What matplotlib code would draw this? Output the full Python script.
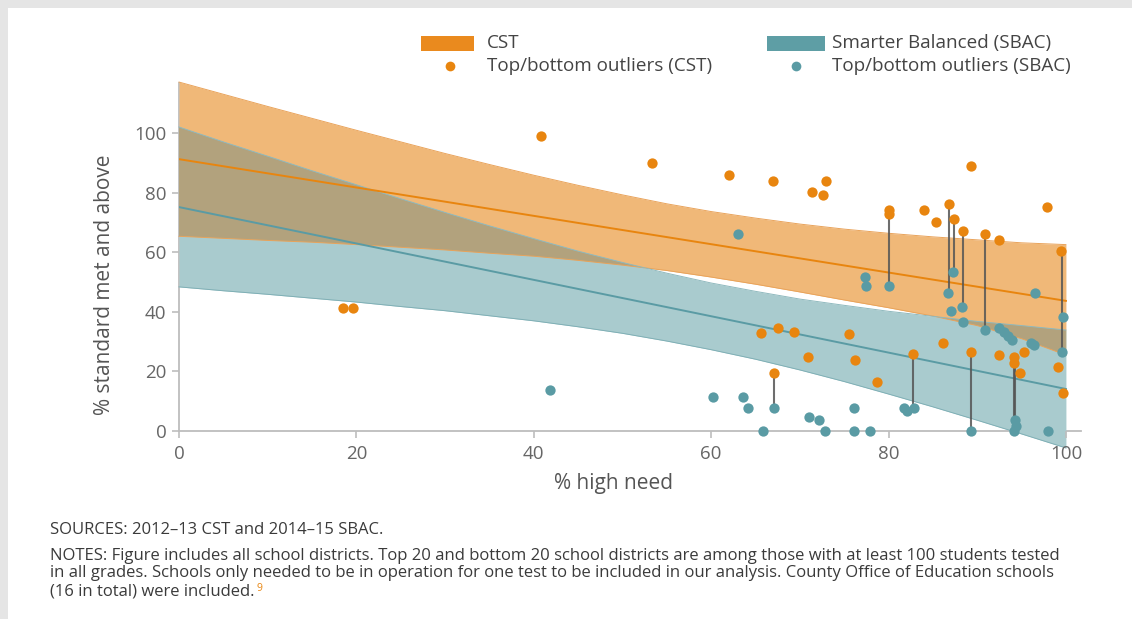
import numpy as np
import matplotlib.pyplot as plt
from matplotlib.patches import Rectangle
from matplotlib.lines import Line2D

# fitted lines (end points) and band edges
fit_x = [0, 100]
cst_fit = [91.3, 43.7]
sbac_fit = [75.2, 14.1]

band_x = [0, 5, 10, 15, 20, 25, 30, 35, 40, 45, 50,
          55, 60, 65, 70, 75, 80, 85, 90, 95, 100]
cst_hi = [117.2, 113.1, 109.0, 105.0, 101.0, 97.1, 93.2, 89.5, 85.9, 82.5, 79.3,
          76.3, 73.7, 71.5, 69.5, 67.8, 66.4, 65.2, 64.2, 63.2, 62.6]
cst_lo = [65.4, 64.7, 64.0, 63.4, 62.6, 61.7, 60.8, 59.7, 58.7, 57.3, 55.7,
          53.9, 51.7, 49.3, 46.7, 44.0, 41.4, 38.6, 35.4, 31.0, 25.5]
sbac_hi = [102.1, 97.1, 92.3, 87.4, 82.7, 78.0, 73.4, 68.9, 64.6, 60.4, 56.6,
           53.0, 49.7, 46.9, 44.3, 42.2, 40.2, 38.5, 36.8, 35.4, 33.9]
sbac_lo = [48.4, 47.1, 45.9, 44.6, 43.3, 41.8, 40.4, 38.7, 37.0, 35.0, 32.8,
           30.2, 27.3, 24.1, 20.5, 16.6, 12.4, 8.1, 3.6, -1.0, -5.7]

# top/bottom outlier districts
cst_x = [18.5, 19.6, 40.8, 53.3, 62.0, 67.0, 71.4, 73.0, 72.6, 80.0, 80.0, 84.0, 85.4,
         86.8, 87.4, 88.4, 89.3, 90.9, 92.4, 97.9, 99.5,
         65.6, 67.5, 69.3, 67.1, 70.9, 75.5, 76.2, 78.7, 82.8, 86.1, 89.3, 92.5, 94.2,
         95.3, 94.1, 94.8, 99.1, 99.7]
cst_y = [41.4, 41.4, 99.0, 90.0, 86.1, 84.0, 80.3, 84.0, 79.1, 74.2, 72.8, 74.2, 70.2,
         76.1, 71.1, 67.3, 88.9, 66.0, 64.3, 75.2, 60.4,
         32.8, 34.5, 33.3, 19.6, 24.7, 32.6, 23.7, 16.5, 25.7, 29.6, 26.6, 25.5, 24.7,
         26.4, 22.7, 19.6, 21.6, 12.6]

sbac_x = [41.8, 60.2, 63.6, 64.2, 67.1, 65.8, 71.0, 72.2, 72.8, 76.1, 76.1, 77.9, 81.7,
          82.1, 82.9, 89.3, 94.3, 94.4, 94.2, 98.0,
          63.0, 77.4, 77.5, 80.0, 87.3, 86.7, 88.3, 87.0, 88.4, 90.9, 92.5, 93.0, 93.5,
          93.9, 96.1, 96.4, 96.5, 99.7, 99.6]
sbac_y = [13.8, 11.5, 11.5, 7.8, 7.6, 0, 4.8, 3.7, 0, 7.8, 0, 0, 7.8,
          6.8, 7.8, 0, 3.7, 1.8, 0, 0,
          66.1, 51.6, 48.6, 48.6, 53.5, 46.4, 41.5, 40.3, 36.6, 33.9, 34.7, 33.3, 31.9,
          30.5, 29.6, 28.9, 46.4, 38.4, 26.4]

# districts that are outliers in both tests
pair_x = [67.1, 80.0, 82.8, 86.8, 87.4, 88.4, 89.3, 90.9, 94.2, 94.3, 99.6]
pair_cst = [19.6, 74.2, 25.7, 76.1, 71.1, 67.3, 26.6, 66.0, 24.7, 22.7, 60.4]
pair_sbac = [7.6, 48.6, 7.8, 46.4, 53.5, 41.5, 0, 33.9, 0, 3.7, 26.4]

ORANGE = '#e8850f'
TEAL = '#5a9ba4'
ORANGE_BAND = '#f0b878'
TEAL_BAND = '#a9cbce'
OVERLAP = '#b2a27d'

plt.rcParams['font.family'] = ['Open Sans', 'DejaVu Sans']

W, H = 1132, 619
fig = plt.figure(figsize=(W / 100, H / 100), dpi=100)


def fx(px):
    return px / W


def fy(py):
    return 1 - py / H


# light grey frame on top/left
fig.add_artist(Rectangle((0, 1 - 8 / H), 1, 8 / H, transform=fig.transFigure,
                         color='#e5e5e5', lw=0))
fig.add_artist(Rectangle((0, 0), 8 / W, 1, transform=fig.transFigure,
                         color='#e5e5e5', lw=0))

ax = fig.add_axes([179 / W, 1 - 451.8 / H, 902 / W, (451.8 - 76.7) / H])
ax.patch.set_alpha(0)

bx = np.array(band_x)
ax.fill_between(bx, cst_lo, cst_hi, color=ORANGE_BAND, lw=0, zorder=1)
ax.fill_between(bx, sbac_lo, sbac_hi, color=TEAL_BAND, lw=0, zorder=1.1, clip_on=False)
ov_lo = np.maximum(cst_lo, sbac_lo)
ov_hi = np.minimum(cst_hi, sbac_hi)
ax.fill_between(bx, ov_lo, ov_hi, where=ov_hi > ov_lo, interpolate=True,
                color=OVERLAP, lw=0, zorder=1.2)
for edge, c in [(cst_hi, '#e9a35a'), (cst_lo, '#e9a35a'),
                (sbac_hi, '#8fb9be'), (sbac_lo, '#7fafb5')]:
    ax.plot(bx, edge, color=c, lw=0.7, zorder=1.3, clip_on=False)

ax.plot(fit_x, cst_fit, color=ORANGE, lw=1.4, zorder=2)
ax.plot(fit_x, sbac_fit, color=TEAL, lw=1.4, zorder=2)

ax.vlines(pair_x, pair_sbac, pair_cst, color='#555555', lw=1.5, alpha=0.85, zorder=3)
ax.scatter(cst_x, cst_y, s=55, color=ORANGE, lw=0, zorder=4, clip_on=False)
ax.scatter(sbac_x, sbac_y, s=55, color=TEAL, lw=0, zorder=4.5, clip_on=False)

ax.set_xlim(0, 101.7)
ax.set_ylim(-7, 119)
ax.set_xticks([0, 20, 40, 60, 80, 100])
ax.set_yticks([0, 20, 40, 60, 80, 100])
for s in ['top', 'right']:
    ax.spines[s].set_visible(False)
ax.spines['bottom'].set_position(('data', 0))
ax.spines['left'].set_bounds(0, 117)
for s in ['bottom', 'left']:
    ax.spines[s].set_color('#bdbdbd')
    ax.spines[s].set_linewidth(1.3)
    ax.spines[s].set_zorder(0.5)
ax.tick_params(axis='both', direction='out', length=5, width=1.2, color='#bdbdbd',
               labelcolor='#666666', labelsize=13.5)
ax.tick_params(axis='y', pad=4)
ax.tick_params(axis='x', pad=5)

fig.text(fx(105), fy(285), '% standard met and above', rotation=90,
         ha='center', va='center', fontsize=15, color='#555555')
fig.text(fx(613), fy(483), '% high need', ha='center', va='center',
         fontsize=15, color='#555555')

# legend
fig.add_artist(Rectangle((fx(421), fy(51)), 53 / W, 15 / H, transform=fig.transFigure,
                         color='#ea8a1e', lw=0))
fig.add_artist(Rectangle((fx(767), fy(51)), 58 / W, 15 / H, transform=fig.transFigure,
                         color='#5e9ea5', lw=0))
fig.add_artist(Line2D([fx(450)], [fy(66)], marker='o', ms=7, color=ORANGE, mew=0,
                      transform=fig.transFigure))
fig.add_artist(Line2D([fx(796)], [fy(66)], marker='o', ms=7, color=TEAL, mew=0,
                      transform=fig.transFigure))
for px, py, t in [(487, 43, 'CST'), (487, 66, 'Top/bottom outliers (CST)'),
                  (832, 43, 'Smarter Balanced (SBAC)'),
                  (832, 66, 'Top/bottom outliers (SBAC)')]:
    fig.text(fx(px), fy(py), t, ha='left', va='center', fontsize=13.6, color='#444444')

# footer
foot = [(530, 'SOURCES: 2012\u201313 CST and 2014\u201315 SBAC.'),
        (556, 'NOTES: Figure includes all school districts. Top 20 and bottom 20 school '
              'districts are among those with at least 100 students tested'),
        (573, 'in all grades. Schools only needed to be in operation for one test to be '
              'included in our analysis. County Office of Education schools'),
        (591, '(16 in total) were included.')]
last = None
for py, t in foot:
    last = fig.text(fx(50), fy(py), t, ha='left', va='center', fontsize=12,
                    color='#3a3a3a')

fig.canvas.draw()
bb = last.get_window_extent()
fig.text(fx(bb.x1 + 2), fy(591), '9', ha='left', va='baseline', fontsize=7.5,
         color=ORANGE)

fig.savefig('out.png', dpi=100)
